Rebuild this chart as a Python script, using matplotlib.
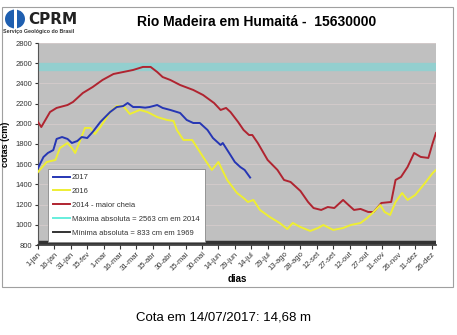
import numpy as np
import matplotlib
matplotlib.use("Agg")
import matplotlib.pyplot as plt
from matplotlib.patches import Rectangle, Ellipse
from matplotlib.lines import Line2D

plt.rcParams['font.family'] = ['Liberation Sans', 'DejaVu Sans']

# cotas diárias (cm) - dia do ano
dias_2017 = [1, 6, 10, 15, 18, 23, 28, 32, 37, 41, 46, 51, 58, 67, 73, 79, 83, 88, 94, 99,
             103, 110, 115, 122, 131, 137, 143, 149, 156, 161, 168, 170, 177, 181, 186, 190, 195]
cota_2017 = [1562, 1671, 1711, 1740, 1850, 1869, 1850, 1810, 1830, 1869, 1859, 1919, 2018, 2117,
             2166, 2176, 2206, 2166, 2166, 2160, 2166, 2186, 2157, 2137, 2107, 2038, 2008, 2008,
             1939, 1859, 1790, 1810, 1691, 1622, 1572, 1543, 1468]

dias_2016 = [1, 9, 17, 21, 28, 32, 35, 39, 44, 49, 53, 58, 67, 73, 79, 85, 94, 101, 110, 119,
             125, 128, 134, 142, 152, 160, 166, 174, 183, 189, 193, 198, 204, 213, 222, 229, 234,
             241, 250, 257, 262, 271, 280, 287, 296, 302, 308, 314, 318, 323, 328, 334, 339, 346,
             355, 362, 365]
cota_2016 = [1523, 1622, 1642, 1760, 1810, 1760, 1711, 1820, 1959, 1959, 1899, 1968, 2117, 2176,
             2176, 2097, 2137, 2117, 2067, 2038, 2028, 1939, 1840, 1840, 1672, 1543, 1622, 1444,
             1315, 1265, 1226, 1246, 1147, 1077, 1018, 958, 1018, 978, 939, 968, 998, 949, 968,
             998, 1018, 1067, 1127, 1196, 1127, 1097, 1226, 1315, 1246, 1295, 1414, 1513, 1543]

dias_2014 = [1, 4, 12, 18, 28, 33, 42, 51, 60, 70, 79, 88, 94, 97, 104, 110, 115, 122, 131, 143,
             152, 162, 168, 173, 177, 184, 189, 194, 197, 202, 211, 220, 226, 232, 241, 248, 253,
             260, 266, 272, 280, 285, 290, 296, 303, 308, 315, 324, 328, 333, 339, 345, 351, 358,
             362, 365]
cota_2014 = [2018, 1968, 2117, 2157, 2186, 2216, 2305, 2364, 2434, 2493, 2513, 2533, 2553, 2563,
             2563, 2513, 2463, 2434, 2384, 2335, 2285, 2206, 2137, 2157, 2117, 2018, 1939, 1889,
             1889, 1810, 1642, 1543, 1444, 1424, 1335, 1226, 1166, 1147, 1176, 1166, 1246, 1196,
             1147, 1157, 1127, 1127, 1216, 1226, 1444, 1474, 1573, 1711, 1672, 1662, 1810, 1909]

maxima_abs = 2563
minima_abs = 833

dias_ticks = list(range(1, 366, 15))
rotulos = ['1-jan', '16-jan', '31-jan', '15-fev', '1-mar', '16-mar', '31-mar', '15-abr',
           '30-abr', '15-mai', '30-mai', '14-jun', '29-jun', '14-jul', '29-jul', '13-ago',
           '28-ago', '12-set', '27-set', '12-out', '27-out', '11-nov', '26-nov', '11-dez',
           '26-dez']

W, H = 457, 335
fig = plt.figure(figsize=(W / 100, H / 100), dpi=100)
fig.patch.set_facecolor('white')

# moldura do gráfico
fig.add_artist(Rectangle((2 / W, 1 - 287 / H), 451 / W, 280 / H, transform=fig.transFigure,
                         facecolor='white', edgecolor='#a0a0a0', lw=0.8, zorder=0))

ax = fig.add_axes([38 / W, 1 - 245 / H, 398 / W, 202 / H])
ax.set_facecolor('#c0c0c0')
ax.set_xlim(1, 365)
ax.set_ylim(800, 2800)
ax.set_yticks(range(800, 2801, 200))
ax.yaxis.grid(True, color='#d2caca', lw=0.7)
ax.set_axisbelow(True)

ax.axhline(maxima_abs, color='#93cfcf', lw=6, zorder=1)
ax.axhline(minima_abs, color='#333333', lw=2.5, zorder=1)

ax.plot(dias_2014, cota_2014, color='#b02430', lw=1.4, zorder=3)
ax.plot(dias_2016, cota_2016, color='#eeee33', lw=1.4, zorder=3)
ax.plot(dias_2017, cota_2017, color='#2636b4', lw=1.4, zorder=4)

ax.set_xticks(dias_ticks)
ax.set_xticklabels(rotulos, rotation=45, ha='right', rotation_mode='anchor', fontsize=5.5)
ax.tick_params(axis='y', labelsize=5.5, length=2, colors='#333333', pad=2)
ax.tick_params(axis='x', length=3, colors='#333333', pad=1)
for s in ['top', 'right']:
    ax.spines[s].set_visible(False)
ax.spines['left'].set_color('#555555')
ax.spines['bottom'].set_color('#333333')
ax.spines['bottom'].set_linewidth(1.2)

ax.set_xlabel('dias', fontsize=7, fontweight='bold', labelpad=1)
ax.set_ylabel('cotas (cm)', fontsize=6.5, fontweight='bold')
ax.yaxis.set_label_coords(-28 / 398, 0.5)

handles = [
    Line2D([], [], color='#2636b4', lw=1.4),
    Line2D([], [], color='#eeee33', lw=1.4),
    Line2D([], [], color='#b02430', lw=1.4),
    Line2D([], [], color='#66eedd', lw=1.4),
    Line2D([], [], color='#333333', lw=1.4),
]
labels = ['2017', '2016', '2014 - maior cheia',
          'Máxima absoluta = %d cm em 2014' % maxima_abs,
          'Mínima absoluta = %d cm em 1969' % minima_abs]
leg = ax.legend(handles, labels, loc='lower left', bbox_to_anchor=(0.025, 0.015),
                fontsize=5.5, frameon=True, fancybox=False, handlelength=2.2,
                handletextpad=0.2, labelspacing=0.85, borderpad=0.7, borderaxespad=0)
leg.get_frame().set_edgecolor('#888888')
leg.get_frame().set_linewidth(0.6)
leg.get_frame().set_alpha(1)
for t in leg.get_texts():
    t.set_color('#333333')
leg.set_zorder(5)

fig.text(257 / W, 1 - 22 / H, 'Rio Madeira em Humaitá -  15630000', ha='center', va='center',
         fontsize=10, fontweight='bold')

# logotipo
fig.add_artist(Ellipse((15 / W, 1 - 19 / H), 20 / W, 19 / H, transform=fig.transFigure,
                       facecolor='#1f5fb0', edgecolor='none'))
fig.add_artist(Rectangle((13.5 / W, 1 - 30 / H), 3 / W, 22 / H, transform=fig.transFigure,
                         facecolor='white', edgecolor='none'))
fig.text(28 / W, 1 - 20 / H, 'CPRM', ha='left', va='center', fontsize=11, fontweight='bold',
         family='DejaVu Sans', color='#222222')
fig.text(3 / W, 1 - 32 / H, 'Serviço Geológico do Brasil', ha='left', va='center',
         fontsize=3.8, fontweight='bold', color='#333333')

fig.text(223 / W, 1 - 318 / H, 'Cota em 14/07/2017: 14,68 m', ha='center', va='center',
         fontsize=9.5)

fig.savefig('out.png', dpi=100)
